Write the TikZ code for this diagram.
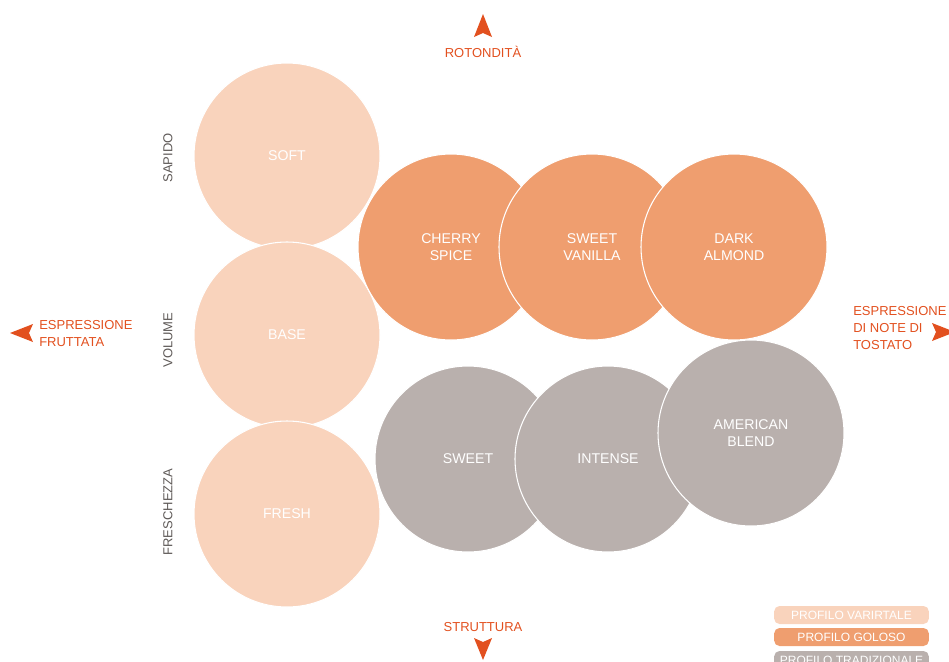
\documentclass[tikz,border=0pt]{standalone}
\usepackage{fontspec}
\setmainfont{Liberation Sans}
\usepackage{tikz}
\usepackage{xcolor}

\definecolor{peach}{RGB}{249,211,188}
\definecolor{apricot}{RGB}{239,158,111}
\definecolor{taupe}{RGB}{185,176,173}
\definecolor{flame}{RGB}{226,80,31}
\definecolor{slate}{RGB}{95,90,88}

\begin{document}
\begin{tikzpicture}[x=0.75pt,y=0.75pt,yscale=-1,xscale=1,
  disc/.style={circle,draw=white,line width=0.8pt,minimum size=139.5pt,inner sep=0pt,
    align=center,text=white,font=\fontsize{10.6}{13}\selectfont},
  lightdisc/.style={disc,fill=peach},
  orangedisc/.style={disc,fill=apricot},
  greydisc/.style={disc,fill=taupe},
  axislabel/.style={text=flame,inner sep=0pt,font=\fontsize{9.75}{12.75}\selectfont},
  sidelabel/.style={text=slate,inner sep=0pt,rotate=90,font=\fontsize{9.75}{12}\selectfont},
  legendbox/.style={rounded corners=4pt,minimum width=116pt,minimum height=13.5pt,inner sep=0pt,
    text=white,font=\fontsize{9}{11}\selectfont}]
\useasboundingbox (0,0) rectangle (949,661);

%Light column
\node [lightdisc] (soft) at (287,156) {SOFT};
\node [lightdisc] (base) at (287,335) {BASE};
\node [lightdisc] (fresh) at (287,514) {FRESH};
%Upper row
\node [orangedisc] (cherry) at (451,247) {CHERRY\\SPICE};
\node [orangedisc] (vanilla) at (592,247) {SWEET\\VANILLA};
\node [orangedisc] (almond) at (734,247) {DARK\\ALMOND};
%Lower row
\node [greydisc] (sweet) at (468,459) {SWEET};
\node [greydisc] (intense) at (608,459) {INTENSE};
\node [greydisc] (blend) at (751,433) {AMERICAN\\BLEND};

%Arrows
\fill [flame] (483,14) -- (492,37) -- (483,33) -- (474,37) -- cycle;
\fill [flame] (483,660) -- (474,638) -- (483,642) -- (492,638) -- cycle;
\fill [flame] (10,333) -- (33,324) -- (29,333) -- (33,342) -- cycle;
\fill [flame] (955,332) -- (932,323) -- (936,332) -- (932,341) -- cycle;

% Text Node
\node [axislabel] (rotondita) at (483,52) {ROTONDITÀ};
% Text Node
\node [axislabel] (struttura) at (483,627) {STRUTTURA};
% Text Node
\node [axislabel,anchor=west,align=left] (fruttata) at (39,334) {ESPRESSIONE\\FRUTTATA};
% Text Node
\node [axislabel,anchor=west,align=left] (tostato) at (853,328) {ESPRESSIONE\\DI NOTE DI\\TOSTATO};
% Text Node
\node [sidelabel] (sapido) at (168,158) {SAPIDO};
\node [sidelabel] (volume) at (168,340) {VOLUME};
\node [sidelabel] (freschezza) at (168,512) {FRESCHEZZA};

%Legend
\node [legendbox,fill=peach] (varietale) at (851.5,615) {PROFILO VARIRTALE};
\node [legendbox,fill=apricot] (goloso) at (851.5,637) {PROFILO GOLOSO};
\node [legendbox,fill=taupe] (tradizionale) at (851.5,660) {PROFILO TRADIZIONALE};

\end{tikzpicture}
\end{document}
